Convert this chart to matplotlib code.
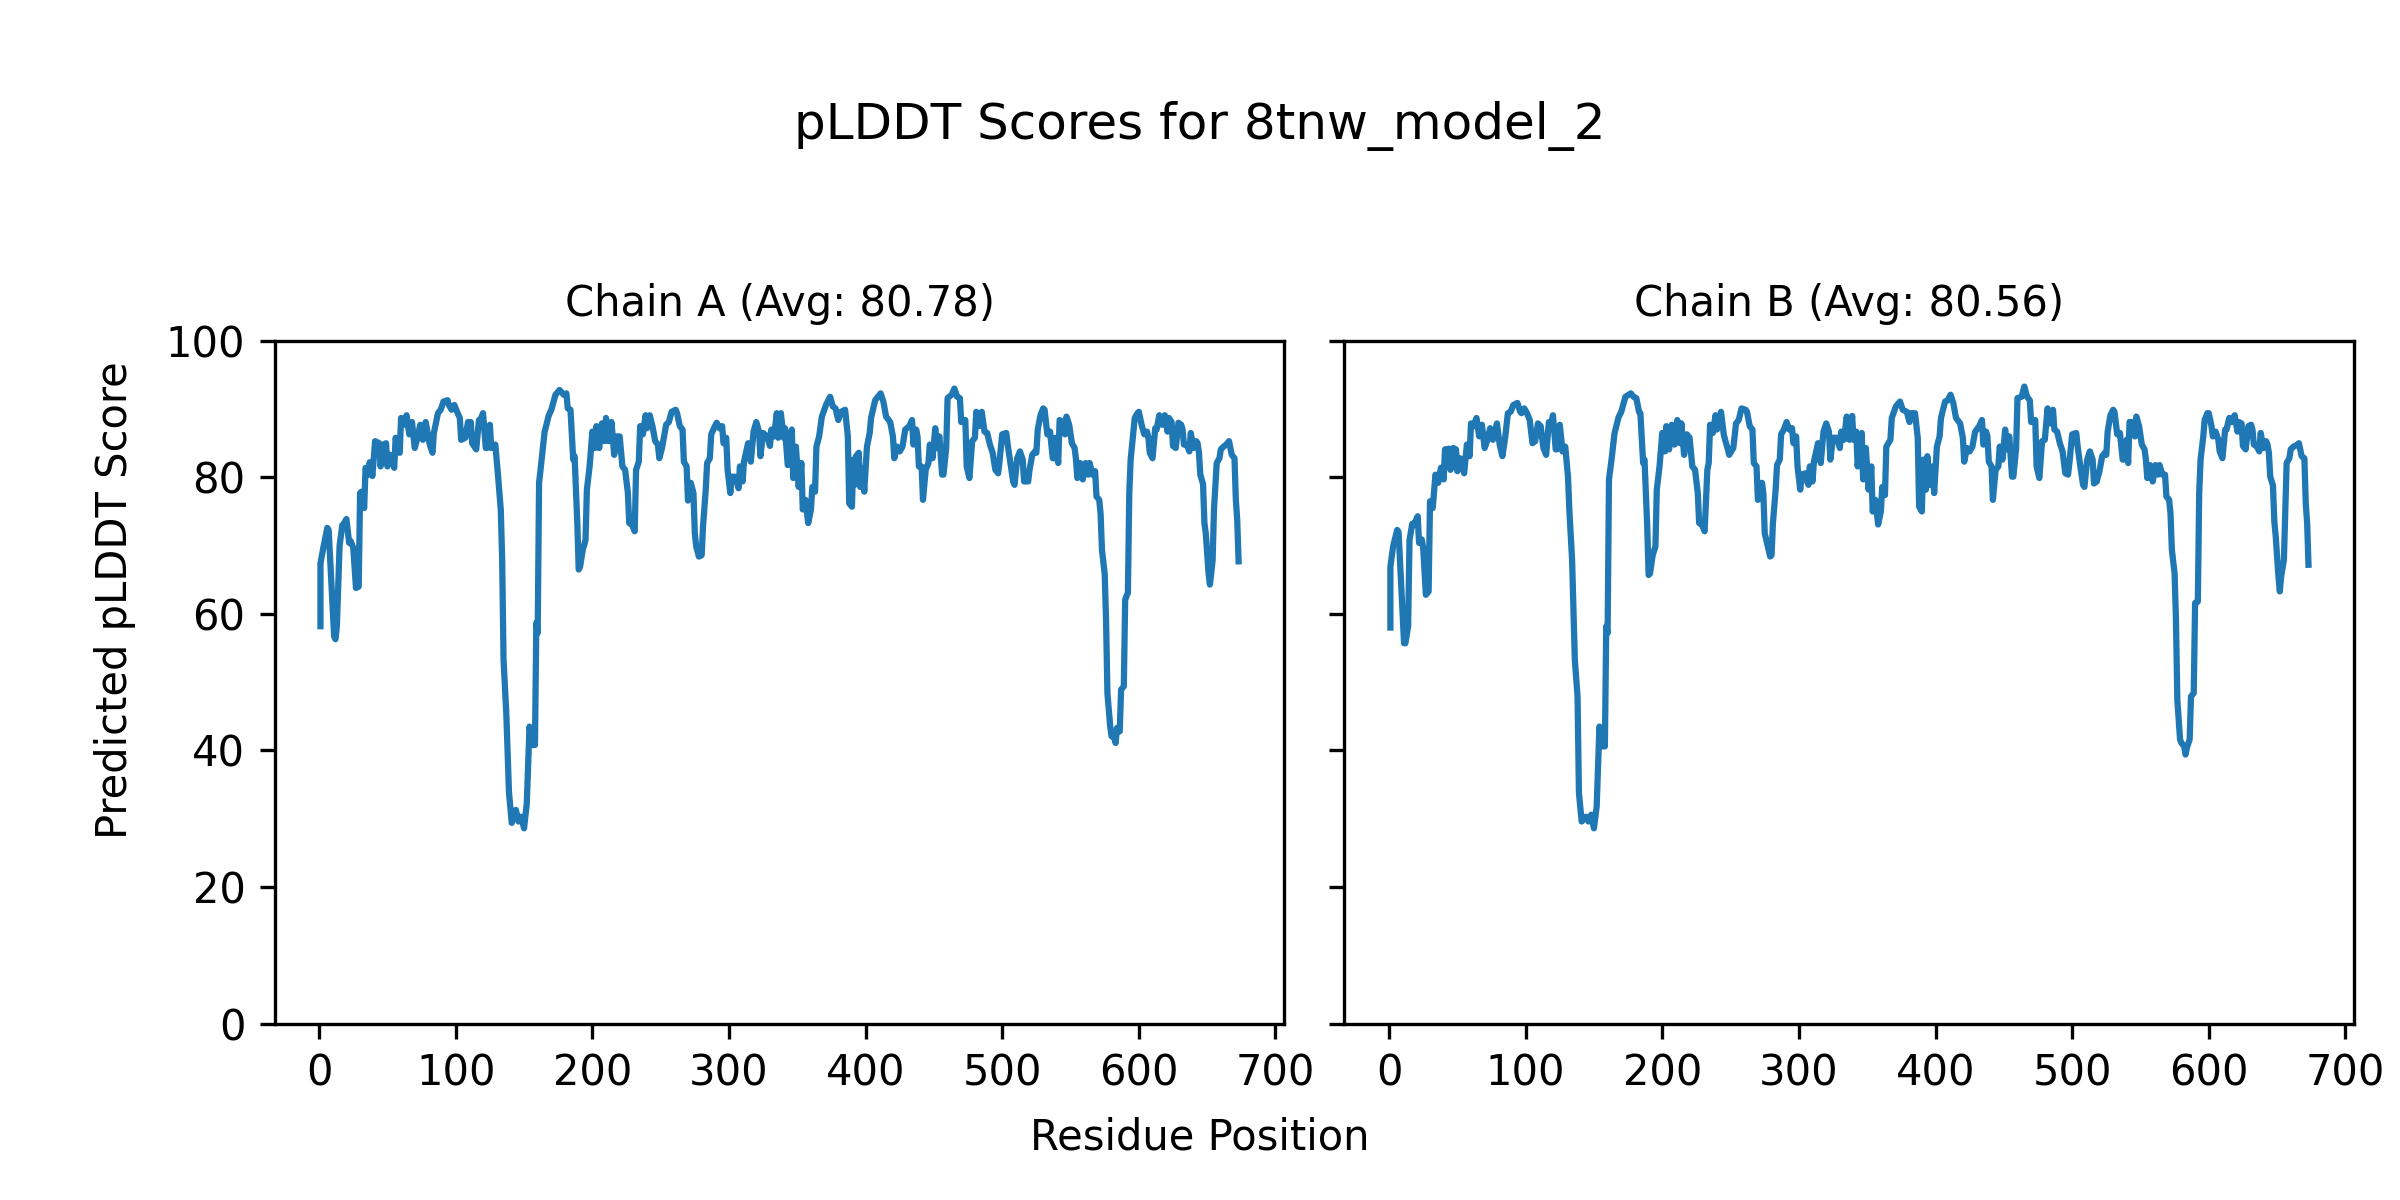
import matplotlib
matplotlib.use("Agg")
import matplotlib.pyplot as plt

title = "pLDDT Scores for 8tnw_model_2"
chain_names = ["A", "B"]
chain_avgs = [80.78, 80.56]

res_a = [1, 1, 3, 6, 7, 11, 12, 13, 15, 17, 18, 20, 22, 23, 25, 27, 29, 30, 31, 33,
         34, 36, 37, 39, 41, 44, 45, 47, 49, 50, 52, 55, 56, 59, 60, 62, 64, 66, 68, 70,
         72, 74, 76, 78, 81, 83, 84, 87, 89, 91, 94, 95, 97, 99, 101, 103, 104, 107, 109, 111,
         112, 115, 117, 118, 120, 122, 123, 125, 126, 129, 131, 133, 134, 135, 137, 139, 141, 144, 146, 148,
         150, 152, 154, 156, 158, 159, 160, 161, 163, 165, 168, 170, 173, 176, 179, 181, 182, 184, 186, 187,
         189, 190, 191, 193, 195, 196, 198, 200, 202, 203, 205, 207, 209, 210, 212, 214, 216, 218, 220, 222,
         224, 226, 227, 229, 231, 232, 234, 235, 237, 239, 240, 242, 244, 246, 248, 249, 251, 254, 256, 258,
         261, 262, 264, 266, 267, 269, 270, 272, 274, 275, 276, 278, 280, 281, 283, 284, 286, 287, 289, 291,
         293, 295, 296, 298, 299, 301, 302, 304, 306, 307, 308, 310, 311, 314, 316, 318, 320, 322, 323, 325,
         328, 330, 331, 333, 335, 336, 338, 340, 341, 343, 346, 347, 349, 351, 353, 354, 356, 358, 360, 361,
         363, 364, 366, 368, 371, 374, 376, 378, 380, 382, 385, 387, 388, 390, 391, 392, 393, 395, 396, 398,
         399, 401, 403, 404, 407, 409, 411, 413, 415, 418, 420, 421, 423, 425, 427, 429, 432, 434, 435, 437,
         438, 439, 441, 442, 444, 446, 447, 449, 451, 452, 454, 456, 457, 459, 460, 463, 465, 467, 469, 470,
         473, 474, 476, 478, 480, 481, 483, 485, 487, 489, 491, 493, 495, 497, 498, 500, 503, 504, 506, 508,
         509, 511, 513, 515, 516, 519, 520, 522, 524, 525, 526, 528, 530, 531, 533, 535, 537, 538, 539, 541,
         542, 544, 546, 547, 549, 551, 553, 554, 555, 557, 559, 561, 563, 564, 566, 568, 569, 571, 572, 573,
         575, 576, 577, 579, 580, 582, 583, 584, 586, 587, 589, 590, 592, 593, 594, 596, 597, 599, 600, 602,
         604, 606, 607, 608, 610, 612, 613, 615, 617, 619, 621, 622, 624, 625, 627, 629, 631, 632, 633, 635,
         637, 638, 640, 642, 643, 644, 645, 647, 648, 649, 651, 652, 653, 654, 655, 657, 659, 660, 662, 664,
         666, 668, 670, 671, 672, 673]
plddt_a = [58.2, 67.4, 69.6, 72.6, 72.3, 56.7, 56.3, 58.2, 70.0, 73.0, 73.2, 73.9, 70.4, 70.7, 69.7, 63.8, 64.0, 77.7, 77.9, 75.5,
           81.4, 80.4, 82.2, 80.2, 85.3, 85.0, 81.6, 84.8, 85.0, 81.6, 83.3, 81.4, 85.8, 83.6, 88.7, 87.7, 89.1, 86.3, 88.1, 84.3,
           85.8, 87.7, 85.5, 88.1, 84.8, 83.6, 86.5, 89.4, 89.9, 91.1, 91.3, 90.6, 89.9, 90.6, 89.6, 88.7, 85.5, 85.8, 88.1, 88.1,
           85.0, 84.1, 88.4, 88.4, 89.4, 84.3, 84.3, 87.7, 84.3, 84.8, 80.2, 75.2, 67.9, 53.3, 45.5, 33.8, 29.4, 31.3, 29.6, 30.3,
           28.6, 32.2, 43.5, 40.8, 40.8, 58.7, 57.2, 79.2, 82.8, 86.6, 89.0, 89.9, 92.1, 92.8, 92.1, 92.3, 90.1, 89.9, 82.6, 83.1,
           73.3, 66.5, 66.9, 69.4, 70.8, 78.2, 81.6, 86.7, 84.3, 87.5, 84.3, 87.9, 85.3, 88.7, 85.3, 88.1, 83.3, 86.0, 86.0, 81.6,
           81.1, 77.7, 73.3, 73.1, 72.1, 81.1, 82.3, 87.5, 86.3, 89.1, 87.2, 89.1, 87.5, 85.3, 84.8, 82.8, 84.3, 87.7, 88.1, 89.6,
           89.9, 89.4, 87.5, 87.0, 82.3, 81.6, 76.6, 79.2, 77.7, 71.8, 69.9, 68.4, 68.6, 72.8, 78.2, 82.1, 82.8, 86.3, 87.2, 88.0,
           87.2, 87.5, 85.0, 85.8, 81.1, 77.7, 80.1, 80.1, 79.2, 78.4, 81.6, 79.4, 82.3, 85.0, 82.3, 86.7, 88.1, 86.7, 83.1, 86.5,
           86.0, 84.6, 87.0, 86.0, 89.4, 85.8, 89.4, 85.8, 87.2, 81.8, 87.0, 79.9, 84.5, 78.6, 82.1, 75.3, 76.7, 73.3, 75.3, 78.6,
           77.9, 84.5, 86.0, 88.9, 90.6, 91.8, 90.4, 90.1, 88.4, 89.6, 89.9, 86.0, 76.2, 75.7, 82.6, 78.9, 83.1, 83.6, 78.6, 81.3,
           77.9, 84.5, 86.5, 88.7, 91.3, 91.8, 92.3, 91.1, 88.9, 88.1, 86.0, 82.8, 84.5, 83.8, 84.5, 87.0, 87.5, 88.4, 84.8, 87.0,
           86.0, 81.6, 81.6, 76.7, 81.1, 82.1, 84.8, 82.8, 87.2, 84.3, 86.0, 80.4, 80.4, 84.3, 91.6, 92.1, 93.0, 91.8, 91.6, 88.1,
           88.4, 81.6, 79.9, 85.3, 85.8, 89.6, 87.5, 89.6, 86.7, 86.5, 84.8, 83.6, 81.1, 80.6, 82.3, 86.3, 86.5, 84.8, 82.1, 79.4,
           78.9, 82.8, 83.8, 82.6, 79.4, 79.4, 81.1, 83.3, 83.8, 83.6, 87.0, 89.1, 90.1, 89.9, 86.3, 86.7, 82.8, 82.8, 85.8, 82.1,
           88.4, 88.1, 86.3, 88.9, 87.7, 85.0, 84.3, 82.6, 79.9, 82.1, 79.7, 82.1, 80.4, 82.1, 80.4, 80.9, 77.2, 76.7, 74.7, 69.4,
           65.9, 59.1, 48.4, 43.6, 42.1, 41.9, 41.1, 43.3, 42.8, 48.9, 49.4, 62.1, 63.1, 77.7, 82.6, 86.7, 88.7, 89.4, 89.6, 87.7,
           86.3, 86.7, 85.8, 83.6, 82.8, 87.2, 87.0, 89.1, 87.7, 89.1, 86.7, 88.7, 88.1, 84.6, 84.3, 88.0, 87.7, 87.0, 84.8, 84.8,
           83.8, 86.5, 84.3, 85.3, 85.0, 83.6, 80.4, 79.0, 73.3, 71.8, 66.0, 64.3, 66.0, 67.9, 75.3, 82.1, 82.8, 84.1, 84.5, 84.8,
           85.3, 83.3, 82.8, 76.7, 73.8, 67.7]

res_b = [1, 1, 3, 6, 7, 11, 12, 14, 15, 17, 18, 21, 22, 24, 25, 27, 29, 30, 32, 34,
         36, 38, 40, 41, 44, 45, 47, 49, 50, 52, 55, 57, 59, 60, 62, 64, 66, 68, 70, 72,
         74, 76, 79, 81, 83, 85, 87, 89, 91, 94, 96, 97, 99, 101, 103, 105, 107, 109, 111, 113,
         115, 117, 119, 120, 122, 123, 125, 127, 129, 131, 132, 134, 136, 138, 139, 141, 144, 146, 148, 150,
         152, 154, 156, 158, 159, 160, 161, 163, 165, 168, 170, 173, 177, 179, 181, 183, 184, 186, 187, 189,
         190, 191, 193, 195, 196, 198, 200, 202, 203, 205, 207, 209, 211, 213, 214, 216, 218, 220, 222, 224,
         226, 227, 229, 231, 233, 234, 235, 237, 239, 240, 243, 245, 246, 248, 249, 252, 254, 256, 258, 261,
         262, 264, 266, 267, 269, 270, 273, 274, 275, 277, 279, 280, 281, 283, 284, 286, 287, 289, 291, 293,
         295, 296, 298, 299, 301, 302, 305, 306, 307, 308, 310, 311, 314, 316, 318, 320, 322, 323, 325, 328,
         330, 331, 333, 335, 337, 339, 340, 342, 343, 346, 347, 349, 351, 353, 354, 356, 358, 360, 361, 363,
         364, 367, 368, 371, 374, 376, 379, 381, 382, 385, 387, 388, 390, 391, 393, 394, 396, 398, 399, 401,
         403, 404, 407, 409, 411, 413, 415, 418, 420, 421, 423, 425, 427, 429, 432, 434, 435, 437, 438, 439,
         441, 442, 444, 446, 447, 449, 451, 452, 454, 456, 457, 459, 460, 463, 465, 467, 469, 470, 473, 474,
         476, 478, 480, 482, 484, 486, 487, 489, 491, 493, 495, 497, 498, 500, 503, 504, 506, 508, 509, 511,
         513, 515, 516, 518, 520, 522, 524, 525, 526, 528, 530, 531, 533, 535, 537, 538, 540, 541, 542, 544,
         546, 547, 549, 551, 553, 554, 555, 557, 559, 561, 563, 564, 566, 568, 569, 571, 572, 573, 575, 576,
         577, 579, 580, 582, 583, 584, 586, 587, 589, 590, 592, 593, 594, 596, 597, 599, 600, 602, 603, 605,
         607, 608, 610, 612, 613, 615, 617, 619, 621, 622, 624, 625, 627, 629, 631, 632, 633, 635, 637, 638,
         640, 642, 643, 644, 645, 647, 648, 649, 651, 652, 653, 655, 656, 657, 659, 660, 662, 664, 666, 668,
         670, 671, 672, 673]
plddt_b = [58.0, 66.9, 69.9, 72.3, 72.0, 55.7, 55.7, 58.2, 70.8, 73.2, 73.0, 74.3, 70.4, 70.9, 69.7, 62.8, 63.3, 76.5, 75.5, 80.4,
           79.2, 81.4, 79.7, 84.1, 84.2, 81.1, 84.3, 84.1, 80.9, 82.8, 80.6, 84.8, 83.1, 87.9, 87.5, 88.7, 86.0, 87.7, 84.3, 85.5,
           87.2, 85.5, 87.9, 84.8, 83.1, 85.8, 89.4, 89.6, 90.6, 90.9, 89.6, 89.4, 90.1, 89.4, 88.4, 85.0, 85.3, 87.9, 87.5, 84.3,
           83.3, 88.1, 88.1, 89.1, 84.1, 84.1, 87.7, 83.8, 84.5, 80.1, 75.2, 67.9, 53.3, 47.9, 33.8, 29.6, 30.3, 29.6, 30.6, 28.6,
           31.8, 43.5, 40.6, 40.6, 58.2, 57.2, 79.7, 82.8, 86.4, 88.8, 89.6, 91.8, 92.3, 91.8, 91.6, 89.6, 89.4, 82.1, 82.6, 72.8,
           65.7, 65.9, 68.6, 69.9, 78.2, 81.6, 86.5, 83.8, 87.5, 84.1, 87.7, 84.8, 88.4, 85.0, 87.9, 83.3, 86.3, 85.8, 81.6, 81.1,
           77.7, 73.3, 73.1, 72.1, 81.1, 82.1, 87.7, 86.5, 89.1, 87.0, 89.6, 86.3, 85.5, 84.1, 83.3, 84.3, 87.9, 88.4, 90.1, 89.9,
           89.6, 87.5, 87.0, 82.1, 81.6, 76.7, 79.2, 77.7, 71.8, 70.1, 68.4, 68.6, 73.3, 78.2, 81.8, 82.6, 86.3, 87.0, 88.1, 87.0,
           87.2, 85.0, 86.0, 81.6, 78.2, 80.4, 80.6, 79.4, 78.9, 81.6, 79.4, 82.3, 85.0, 82.1, 86.7, 87.9, 86.7, 82.6, 85.8, 85.8,
           84.3, 86.7, 85.5, 88.9, 85.5, 89.0, 85.5, 86.7, 81.6, 86.5, 79.7, 84.3, 78.2, 81.6, 75.0, 76.7, 73.1, 75.0, 78.6, 77.4,
           84.5, 85.5, 88.7, 90.4, 91.1, 89.9, 89.6, 88.1, 89.4, 89.4, 85.8, 75.7, 75.0, 82.6, 78.2, 83.1, 78.9, 81.6, 77.7, 84.5,
           86.0, 88.7, 91.1, 91.3, 92.1, 90.9, 88.7, 87.9, 85.8, 82.3, 84.3, 83.8, 84.5, 86.7, 87.5, 88.4, 84.8, 86.7, 86.0, 82.3,
           81.6, 76.7, 81.1, 81.6, 84.5, 82.6, 87.0, 84.1, 86.0, 80.1, 80.1, 84.3, 91.6, 91.8, 93.3, 91.8, 91.3, 88.1, 88.4, 81.6,
           79.9, 85.3, 85.5, 90.1, 87.9, 89.9, 87.0, 86.7, 85.0, 83.8, 80.6, 80.4, 82.1, 86.3, 86.5, 84.6, 81.6, 78.9, 78.6, 82.6,
           83.8, 82.6, 79.1, 79.4, 80.9, 83.1, 83.6, 83.3, 86.7, 89.1, 89.9, 89.6, 86.3, 86.5, 82.6, 82.6, 85.5, 82.1, 88.1, 88.1,
           86.0, 88.9, 87.5, 84.8, 84.1, 82.6, 79.9, 81.8, 79.4, 81.8, 80.4, 81.8, 80.4, 80.4, 77.2, 76.7, 74.7, 69.4, 65.9, 59.1,
           47.4, 41.6, 41.1, 40.6, 39.4, 40.4, 41.6, 47.9, 48.4, 61.6, 61.8, 77.7, 82.6, 86.0, 88.4, 89.4, 89.4, 87.5, 86.0, 86.7,
           85.5, 83.8, 82.8, 87.0, 87.0, 88.7, 88.1, 89.1, 86.7, 88.1, 87.9, 84.6, 84.1, 87.5, 87.7, 87.0, 84.8, 84.6, 83.8, 86.5,
           84.3, 85.3, 84.8, 83.6, 80.1, 78.8, 73.5, 71.4, 65.5, 63.3, 65.5, 67.9, 75.3, 82.1, 82.8, 84.1, 84.5, 84.7, 85.0, 83.1,
           82.8, 76.2, 73.3, 67.2]

xlabel = "Residue Position"
ylabel = "Predicted pLDDT Score"

fig, axes = plt.subplots(1, 2, figsize=(8, 4), dpi=300, sharey=True)
fig.subplots_adjust(left=0.1144, right=0.981, top=0.716, bottom=0.147, wspace=0.0594)

for ax, name, avg, xs, ys in zip(axes, chain_names, chain_avgs, [res_a, res_b], [plddt_a, plddt_b]):
    ax.plot(xs, ys, color="#1f77b4", linewidth=1.5)
    ax.set_title(f"Chain {name} (Avg: {avg:.2f})", fontsize=10)
    ax.set_ylim(0, 100)
    ax.set_xticks([0, 100, 200, 300, 400, 500, 600, 700])

fig.suptitle(title, fontsize=12, y=0.916, va="top")
fig.text(0.5, 0.0525, xlabel, ha="center", va="center", fontsize=10)
fig.text(0.048, 0.5, ylabel, ha="center", va="center", rotation=90, fontsize=10)

fig.savefig("out.png", dpi=300)
